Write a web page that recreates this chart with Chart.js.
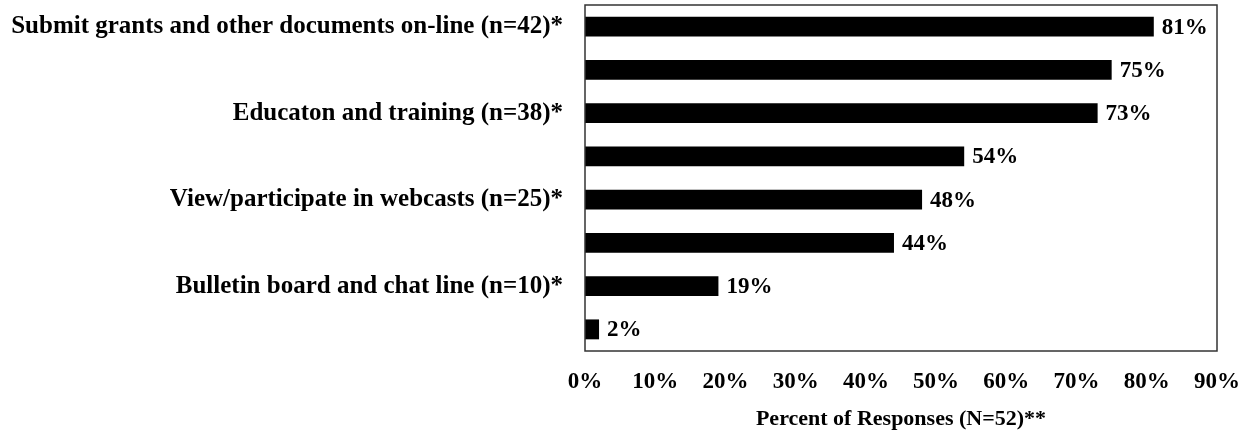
<!DOCTYPE html>
<html>
<head>
<meta charset="utf-8">
<script src="https://cdn.jsdelivr.net/npm/chart.js@4"></script>
<style>
  html, body { margin: 0; padding: 0; background: #fff; }
  .chart-container { width: 1249px; height: 437px; position: relative; }
</style>
</head>
<body>
<div class="chart-container"><canvas id="responses-chart"></canvas></div>
<script>
// categories, top to bottom (unlabelled rows have no visible name in the source)
const categories = [
    "Submit grants and other documents on-line (n=42)*",
    "",
    "Educaton and training (n=38)*",
    "",
    "View/participate in webcasts (n=25)*",
    "",
    "Bulletin board and chat line (n=10)*",
    ""
]
const percents = [81, 75, 73, 54, 48, 44, 19, 2]
const tickValues = [0, 10, 20, 30, 40, 50, 60, 70, 80, 90]
const axisTitle = "Percent of Responses (N=52)**"

const serif = "'Liberation Serif', 'Times New Roman', serif"

// frame round the plot area
const frame = {
    id: "frame",
    afterDraw(chart) {
        let a = chart.chartArea
        let ctx = chart.ctx
        ctx.save()
        ctx.strokeStyle = "#333"
        ctx.lineWidth = 1.5
        ctx.strokeRect(a.left, a.top, a.right - a.left, a.bottom - a.top)
        ctx.restore()
    }
}

// percent labels at the end of each bar
const barLabels = {
    id: "barLabels",
    afterDatasetsDraw(chart) {
        let ctx = chart.ctx
        let meta = chart.getDatasetMeta(0)
        ctx.save()
        ctx.font = "bold 23px " + serif
        ctx.fillStyle = "#000"
        ctx.textBaseline = "middle"
        meta.data.forEach((bar, i) => {
            ctx.fillText(percents[i] + "%", bar.x + 8, bar.y + 1)
        })
        ctx.restore()
    }
}

new Chart(document.getElementById("responses-chart"), {
    type: "bar",
    data: {
        labels: categories,
        datasets: [{
            data: percents,
            backgroundColor: "#000",
            borderWidth: 0,
            barPercentage: 0.46,
            categoryPercentage: 1
        }]
    },
    options: {
        indexAxis: "y",
        responsive: true,
        maintainAspectRatio: false,
        animation: false,
        layout: { padding: { top: 5, right: 32, bottom: 0, left: 0 } },
        plugins: {
            legend: { display: false },
            tooltip: { enabled: false }
        },
        scales: {
            x: {
                min: 0,
                max: 90,
                afterBuildTicks: (axis) => { axis.ticks = tickValues.map(v => ({ value: v })) },
                afterFit: (axis) => { axis.height = 86 },
                grid: { display: false, drawTicks: true, tickLength: 17 },
                border: { display: false },
                ticks: {
                    padding: 0,
                    color: "#000",
                    font: { family: serif, size: 23, weight: "bold" },
                    callback: (v) => v + "%"
                },
                title: {
                    display: true,
                    text: axisTitle,
                    color: "#000",
                    padding: { top: 0, bottom: 4 },
                    font: { family: serif, size: 22, weight: "bold" }
                }
            },
            y: {
                grid: { display: false, drawTicks: true, tickLength: 22 },
                border: { display: false },
                afterFit: (axis) => { axis.width = 585 },
                ticks: {
                    autoSkip: false,
                    padding: 0,
                    color: "#000",
                    font: { family: serif, size: 25, weight: "bold", lineHeight: 0.4 }
                }
            }
        }
    },
    plugins: [frame, barLabels]
});
</script>
</body>
</html>
